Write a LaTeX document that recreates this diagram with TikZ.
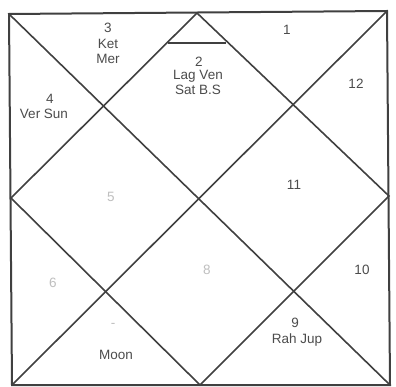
\documentclass[tikz,border=0pt]{standalone}
\usepackage{fontspec}
\setmainfont{Liberation Sans}
\begin{document}
\begin{tikzpicture}[x=1pt,y=-1pt,
  chartline/.style={draw=black!75,line width=1.6pt},
  lbl/.style={font=\fontsize{13.5}{14}\selectfont,text=black!70,align=center,inner sep=0pt},
  faint/.style={lbl,text=black!25}]
\useasboundingbox (0,0) rectangle (396,387);
\fill[white] (0,0) rectangle (396,387);
% corners and midpoints
\coordinate (TL) at (9,14);
\coordinate (TR) at (387,11);
\coordinate (BL) at (12,385);
\coordinate (BR) at (390,385);
\coordinate (T) at (197,13);
\coordinate (L) at (11,198);
\coordinate (R) at (389,196);
\coordinate (B) at (200,385);
\coordinate (LA) at (168,43);
\coordinate (LB) at (226,43);
% outer square
\draw[chartline,line width=2pt] (TL) -- (TR) -- (BR) -- (BL) -- cycle;
% diagonals
\draw[chartline] (TL) -- (BR);
\draw[chartline] (TR) -- (BL);
% inner diamond
\draw[chartline] (T) -- (R) -- (B) -- (L) -- cycle;
% lagna marker
\draw[chartline,line width=1.3pt] (LA) -- (LB);
% labels
\node[lbl] (h1) at (287,30) {1};
\node[lbl] (h2) at (199,62) {2};
\node[lbl] (h2a) at (198,76) {Lag Ven};
\node[lbl] (h2b) at (198,90) {Sat B.S};
\node[lbl] (h3) at (108,28) {3};
\node[lbl] (h3a) at (108,44) {Ket};
\node[lbl] (h3b) at (108,59) {Mer};
\node[lbl] (h4) at (50,99) {4};
\node[lbl] (h4a) at (44,114) {Ver Sun};
\node[faint] (h5) at (111,197) {5};
\node[faint] (h6) at (53,283) {6};
\node[faint] (h7) at (113,325) {-};
\node[lbl] (h7a) at (116,355) {Moon};
\node[faint] (h8) at (207,270) {8};
\node[lbl] (h9) at (295,323) {9};
\node[lbl] (h9a) at (297,340) {Rah Jup};
\node[lbl] (h10) at (362,270) {10};
\node[lbl] (h11) at (294,185) {11};
\node[lbl] (h12) at (356,84) {12};
\end{tikzpicture}
\end{document}
